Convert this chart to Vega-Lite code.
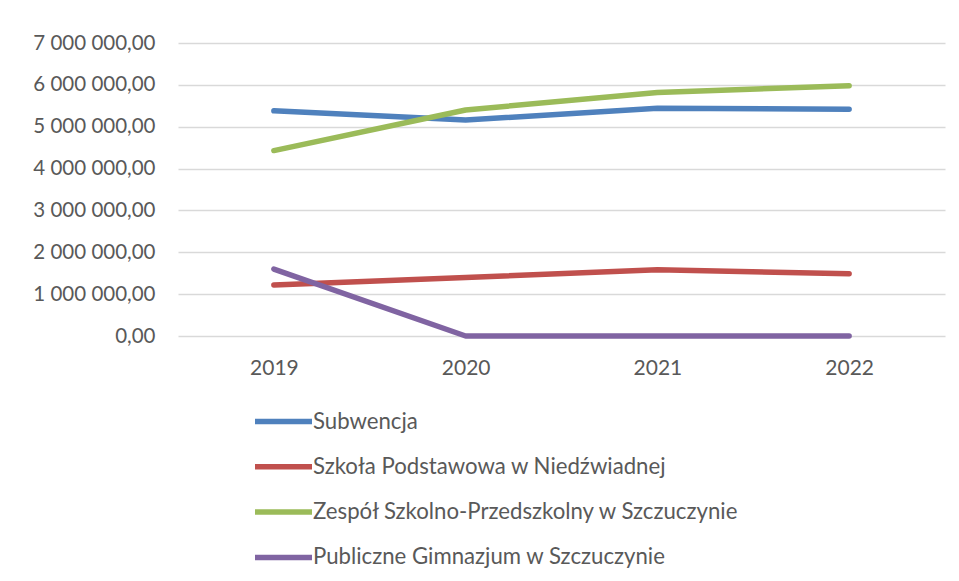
{
  "$schema": "https://vega.github.io/schema/vega-lite/v6.json",
  "autosize": {"type": "none"},
  "width": 767,
  "height": 293,
  "padding": {"left": 178, "top": 43, "right": 14, "bottom": 245},
  "background": "white",
  "config": {
    "view": {"stroke": null},
    "font": "Lato"
  },
  "data": {
    "values": [
      {"rok": "2019", "seria": "Subwencja", "kwota": 5380000},
      {"rok": "2020", "seria": "Subwencja", "kwota": 5160000},
      {"rok": "2021", "seria": "Subwencja", "kwota": 5440000},
      {"rok": "2022", "seria": "Subwencja", "kwota": 5420000},
      {"rok": "2019", "seria": "Szkoła Podstawowa w Niedźwiadnej", "kwota": 1220000},
      {"rok": "2020", "seria": "Szkoła Podstawowa w Niedźwiadnej", "kwota": 1400000},
      {"rok": "2021", "seria": "Szkoła Podstawowa w Niedźwiadnej", "kwota": 1580000},
      {"rok": "2022", "seria": "Szkoła Podstawowa w Niedźwiadnej", "kwota": 1490000},
      {"rok": "2019", "seria": "Zespół Szkolno-Przedszkolny w Szczuczynie", "kwota": 4430000},
      {"rok": "2020", "seria": "Zespół Szkolno-Przedszkolny w Szczuczynie", "kwota": 5400000},
      {"rok": "2021", "seria": "Zespół Szkolno-Przedszkolny w Szczuczynie", "kwota": 5820000},
      {"rok": "2022", "seria": "Zespół Szkolno-Przedszkolny w Szczuczynie", "kwota": 5980000},
      {"rok": "2019", "seria": "Publiczne Gimnazjum w Szczuczynie", "kwota": 1600000},
      {"rok": "2020", "seria": "Publiczne Gimnazjum w Szczuczynie", "kwota": 0},
      {"rok": "2021", "seria": "Publiczne Gimnazjum w Szczuczynie", "kwota": 0},
      {"rok": "2022", "seria": "Publiczne Gimnazjum w Szczuczynie", "kwota": 0}
    ]
  },
  "mark": {"type": "line", "strokeWidth": 5.5, "strokeCap": "round", "strokeJoin": "round"},
  "encoding": {
    "x": {
      "field": "rok",
      "type": "ordinal",
      "scale": {"type": "point", "padding": 0.5},
      "axis": {
        "title": null,
        "labelAngle": 0,
        "domain": false,
        "ticks": false,
        "grid": false,
        "labelFontSize": 21,
        "labelColor": "#595959",
        "labelPadding": 21
      }
    },
    "y": {
      "field": "kwota",
      "type": "quantitative",
      "scale": {"domain": [0, 7000000], "nice": false},
      "axis": {
        "title": null,
        "values": [0, 1000000, 2000000, 3000000, 4000000, 5000000, 6000000, 7000000],
        "domain": false,
        "ticks": false,
        "grid": true,
        "gridColor": "#d9d9d9",
        "gridWidth": 1.3,
        "labelFontSize": 20.5,
        "labelColor": "#595959",
        "labelPadding": 23,
        "labelExpr": "join(split(split(format(datum.value, ',.2f'), '.')[0], ','), ' ') + ',' + split(format(datum.value, ',.2f'), '.')[1]"
      }
    },
    "color": {
      "field": "seria",
      "type": "nominal",
      "scale": {
        "domain": ["Subwencja", "Szkoła Podstawowa w Niedźwiadnej", "Zespół Szkolno-Przedszkolny w Szczuczynie", "Publiczne Gimnazjum w Szczuczynie"],
        "range": ["#4f81bd", "#c0504d", "#9bbb59", "#8064a2"]
      },
      "legend": {
        "title": null,
        "orient": "none",
        "legendX": 74,
        "legendY": 347,
        "direction": "vertical",
        "symbolType": "stroke",
        "symbolSize": 3249,
        "symbolStrokeWidth": 5.5,
        "labelFontSize": 22.2,
        "labelColor": "#595959",
        "labelOffset": -2,
        "rowPadding": 2.3,
        "padding": 0,
        "labelLimit": 700
      }
    }
  }
}
